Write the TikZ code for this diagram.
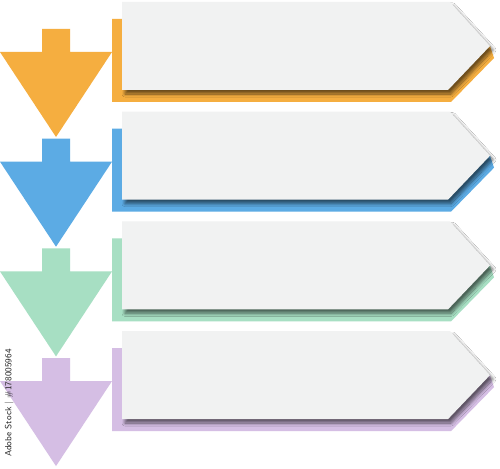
\documentclass[tikz,border=0pt]{standalone}
\usetikzlibrary{shadows.blur}
\definecolor{corange}{RGB}{245,174,64}
\definecolor{cblue}{RGB}{92,171,228}
\definecolor{cgreen}{RGB}{167,223,195}
\definecolor{cpurple}{RGB}{213,190,228}
\definecolor{cbox}{RGB}{241,242,242}
\tikzset{
  arrowshape/.style={draw=none},
  backing/.style={draw=none},
  whitebox/.style={fill=cbox, draw=none,
    blur shadow={shadow xshift=3pt, shadow yshift=-4pt, shadow blur radius=3pt, shadow opacity=55, shadow blur steps=12}},
  wmark/.style={font=\sffamily\fontsize{9}{9}\selectfont, text=black!85, rotate=90}
}
\begin{document}
\begin{tikzpicture}[x=1pt,y=-1pt]
\fill[white] (0,0) rectangle (500,468);
\useasboundingbox (0,0) rectangle (500,468);
\foreach \c [count=\i from 0] in {corange,cblue,cgreen,cpurple}{
  \begin{scope}[yshift={-\i*109.7pt}]
    % down arrow
    \fill[\c, arrowshape] (42,29) -- (70,29) -- (70,52) -- (112,52) -- (56,137) -- (0,52) -- (42,52) -- cycle;
    % coloured backing
    \fill[\c, backing] (112,19) -- (440,19) -- (490,46) -- (494,58) -- (451,102) -- (112,102) -- cycle;
    % white arrow box
    \path[whitebox] (122,2) -- (450,2) -- (490,46) -- (448,90) -- (122,90) -- cycle;
  \end{scope}
}
\node[wmark] (wm) at (9,403) {Adobe Stock | \#178005964};
\end{tikzpicture}
\end{document}
